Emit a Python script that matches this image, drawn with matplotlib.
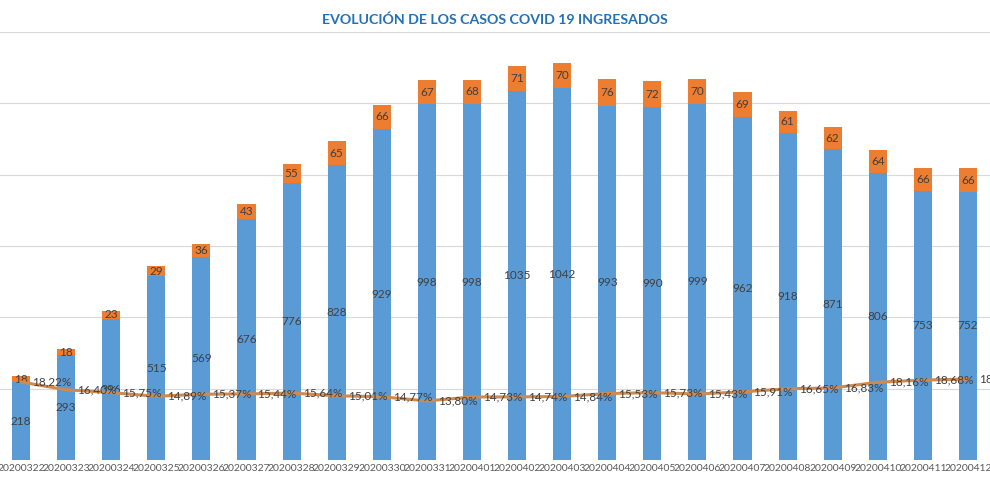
import matplotlib
matplotlib.use('Agg')
import matplotlib.pyplot as plt
import numpy as np

plt.rcParams['font.family'] = ['Lato', 'DejaVu Sans']

fechas = ['20200322', '20200323', '20200324', '20200325', '20200326', '20200327',
          '20200328', '20200329', '20200330', '20200331', '20200401', '20200402',
          '20200403', '20200404', '20200405', '20200406', '20200407', '20200408',
          '20200409', '20200410', '20200411', '20200412']
ingresados = [218, 293, 396, 515, 569, 676, 776, 828, 929, 998, 998, 1035,
              1042, 993, 990, 999, 962, 918, 871, 806, 753, 752]
uci = [18, 18, 23, 29, 36, 43, 55, 65, 66, 67, 68, 71,
       70, 76, 72, 70, 69, 61, 62, 64, 66, 66]
porcentaje = [18.22, 16.40, 15.75, 14.89, 15.37, 15.44, 15.64, 15.01, 14.77, 13.80, 14.73,
              14.74, 14.84, 15.53, 15.73, 15.43, 15.91, 16.65, 16.83, 18.16, 18.68, 18.90]

AZUL = '#5B9BD5'
NARANJA = '#ED7D31'
LINEA = '#D08A4E'
TEXTO = '#404040'

fig = plt.figure(figsize=(9.9, 4.91), dpi=100)
ax = fig.add_axes([-1.5 / 990, 31 / 491, 992 / 990, 428 / 491])

x = np.arange(len(fechas))
ax.bar(x, ingresados, width=0.4, color=AZUL, zorder=2)
ax.bar(x, uci, width=0.4, bottom=ingresados, color=NARANJA, zorder=2)

# etiquetas dentro de cada tramo de la barra
for xi, h, u in zip(x, ingresados, uci):
    ax.text(xi, h / 2, str(h), ha='center', va='center', fontsize=8.5, color=TEXTO, zorder=5)
    ax.text(xi, h + u / 2, str(u), ha='center', va='center', fontsize=8.5, color=TEXTO, zorder=5)

ax.set_xlim(-0.5, len(fechas) - 0.5)
ax.set_ylim(0, 1200)
ax.set_yticks(np.arange(0, 1201, 200))
ax.yaxis.grid(True, color='#D9D9D9', linewidth=0.8, zorder=0)
ax.set_axisbelow(True)
ax.tick_params(axis='y', left=False, labelleft=False)
ax.tick_params(axis='x', length=0, pad=3, labelsize=7.5, labelcolor='#595959')
ax.set_xticks(x)
ax.set_xticklabels(fechas)
for s in ax.spines.values():
    s.set_visible(False)

# porcentaje en eje secundario (0-100 %)
ax2 = ax.twinx()
ax2.set_ylim(0, 100)
ax2.plot(x, porcentaje, color=LINEA, linewidth=2.2, zorder=3)
for xi, p in zip(x, porcentaje):
    ax2.annotate(f'{p:.2f}%'.replace('.', ','), (xi, p), xytext=(11, 0),
                 textcoords='offset pixels', ha='left', va='center',
                 fontsize=8.5, color=TEXTO, annotation_clip=False)
ax2.axis('off')

fig.text(0.5, 1 - 20 / 491, 'EVOLUCIÓN DE LOS CASOS COVID 19 INGRESADOS',
         ha='center', va='center', fontsize=10.2, fontweight='bold', color='#2271B8')

fig.savefig('out.png', dpi=100)
